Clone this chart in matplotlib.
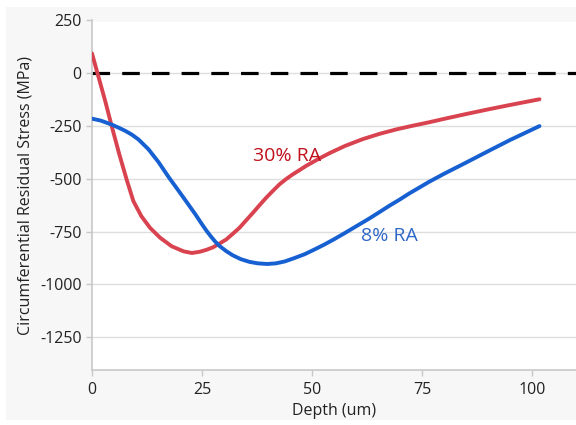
import matplotlib.pyplot as plt
from matplotlib.patches import Rectangle

plt.rcParams['font.family'] = ['Open Sans', 'DejaVu Sans']
plt.rcParams['axes.unicode_minus'] = False

# 30% RA curve (red)
depth_30 = [0, 1.25, 3.0, 4.5, 6.2, 7.9, 9.4, 11.2, 13.2, 15.5, 18.1, 20.8, 22.7,
            24.5, 26.0, 27.5, 29.0, 30.5, 32.0, 33.5, 35.0, 36.6, 38.1, 39.6, 41.1, 42.6,
            44.1, 45.6, 47.2, 48.7, 51.7, 54.0, 57.5, 61.5, 65.3, 69.1, 72.5, 76.6, 80.4,
            85.0, 90.0, 95.0, 101.7]
stress_30 = [94, 0, -131, -252, -383, -505, -605, -676, -732, -779, -819, -843, -851,
             -845, -836, -824, -806, -787, -760, -732, -697, -660, -624, -589, -557, -526,
             -501, -479, -458, -438, -403, -378, -344, -312, -287, -266, -250, -232, -214,
             -193, -171, -150, -123]

# 8% RA curve (blue)
depth_8 = [0, 2.0, 4.5, 6.0, 7.6, 9.1, 10.6, 12.8, 15.1, 17.4, 19.7, 21.9, 23.5, 24.9,
           26.0, 27.0, 28.0, 29.0, 30.5, 32.0, 33.8, 35.8, 37.7, 39.8, 41.8, 43.8, 46.0,
           48.3, 50.5, 52.8, 55.0, 57.5, 60.0, 63.0, 65.5, 67.6, 70.0, 72.1, 74.4, 76.6,
           80.0, 85.0, 90.2, 95.0, 101.7]
stress_8 = [-215, -224, -243, -257, -273, -291, -314, -359, -420, -491, -557, -621, -668,
            -712, -745, -772, -797, -818, -842, -862, -880, -893, -900, -903, -900, -891,
            -875, -857, -835, -811, -786, -756, -725, -688, -655, -627, -597, -569, -541,
            -514, -476, -423, -367, -316, -250]

y_ticks = [250, 0, -250, -500, -750, -1000, -1250]
x_ticks = [0, 25, 50, 75, 100]

fig = plt.figure(figsize=(5.76, 4.25), dpi=100)
fig.patch.set_facecolor('white')
fig.patches.append(Rectangle((6 / 576, 5 / 425), 570 / 576, 413 / 425,
                             transform=fig.transFigure, facecolor='#f7f7f7',
                             edgecolor='none', zorder=-1))

ax = fig.add_axes([92 / 576, 55 / 425, 484 / 576, 349.5 / 425])
ax.set_facecolor('white')

ax.axhline(0, color='black', lw=2.3, dashes=(5.5, 3.8), zorder=2)
ax.plot(depth_30, stress_30, color='#d9434f', lw=2.8, solid_capstyle='round',
        solid_joinstyle='round', zorder=3)
ax.plot(depth_8, stress_8, color='#1660d2', lw=2.8, solid_capstyle='round',
        solid_joinstyle='round', zorder=3)

ax.text(44.4, -390, '30% RA', color='#c0101c', fontsize=14, ha='center', va='center')
ax.text(67.6, -771, '8% RA', color='#2f68c8', fontsize=14, ha='center', va='center')

ax.set_xlim(0, 110)
ax.set_ylim(-1405, 250)
ax.set_xticks(x_ticks)
ax.set_yticks(y_ticks)
ax.grid(axis='y', color='#dedede', lw=1)
ax.set_axisbelow(True)

for s in ['top', 'right']:
    ax.spines[s].set_visible(False)
for s in ['left', 'bottom']:
    ax.spines[s].set_color('#c8c8c8')
    ax.spines[s].set_linewidth(1.2)
ax.tick_params(colors='#c8c8c8', labelcolor='#222222', labelsize=11.5, length=4, width=1)
ax.tick_params(axis='x', pad=5)

ax.set_xlabel('Depth (um)', fontsize=11.5, color='#222222', labelpad=3)
ax.set_ylabel('Circumferential Residual Stress (MPa)', fontsize=11.5, color='#222222',
              labelpad=5)

fig.savefig('out.png', dpi=100, facecolor=fig.get_facecolor())
